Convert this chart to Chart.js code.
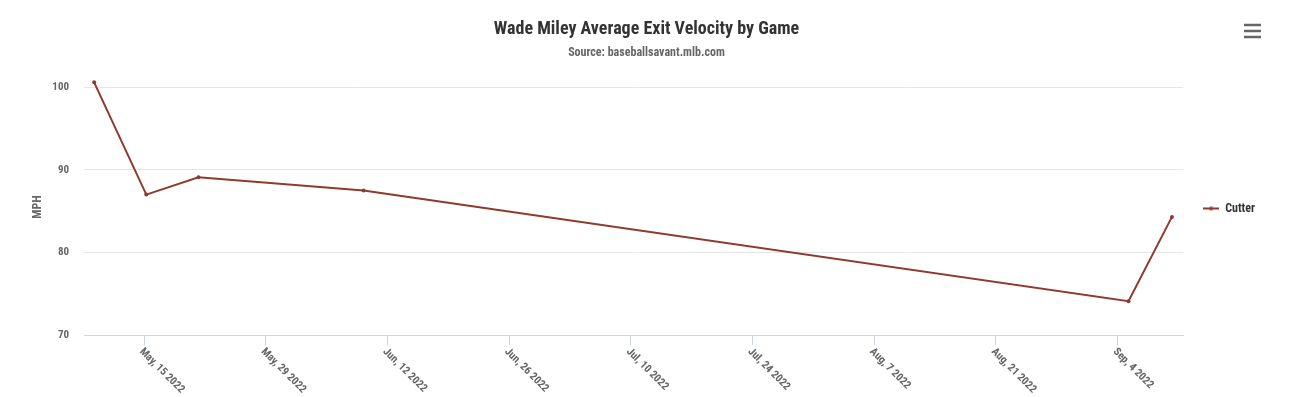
<!DOCTYPE html>
<html>
<head>
<meta charset="utf-8">
<script src="https://cdn.jsdelivr.net/npm/chart.js@4"></script>
<style>
  html, body { margin: 0; padding: 0; background: #fff; }
  #wrap { width: 1309px; height: 397px; }
</style>
</head>
<body>
<div id="wrap"><canvas id="chart"></canvas></div>
<script>
const FONT = "'Roboto Condensed', 'Liberation Sans Narrow', 'DejaVu Sans Condensed', Roboto, sans-serif";

// game dates and average exit velocity on the cutter
const gameDates = ['2022-05-09T06:00Z', '2022-05-15T06:00Z', '2022-05-21T06:00Z', '2022-06-09T06:00Z', '2022-09-05T06:00Z', '2022-09-10T06:00Z'];
const cutterMph = [100.6, 87.0, 89.1, 87.5, 74.1, 84.3];

const xTickDates = ['2022-05-15', '2022-05-29', '2022-06-12', '2022-06-26', '2022-07-10', '2022-07-24', '2022-08-07', '2022-08-21', '2022-09-04'];
const yTicks = [70, 80, 90, 100];
const monthNames = ['Jan', 'Feb', 'Mar', 'Apr', 'May', 'Jun', 'Jul', 'Aug', 'Sep', 'Oct', 'Nov', 'Dec'];

const lineColor = '#8e3a2c';

function fmtDate(ms) {
  const d = new Date(ms);
  return monthNames[d.getUTCMonth()] + ', ' + d.getUTCDate() + ' ' + d.getUTCFullYear();
}

// legend symbol: short line with a dot, highcharts style
const legendIcon = document.createElement('canvas');
legendIcon.width = 16;
legendIcon.height = 6;
(function () {
  const c = legendIcon.getContext('2d');
  c.strokeStyle = lineColor;
  c.lineWidth = 2;
  c.beginPath(); c.moveTo(0, 3); c.lineTo(16, 3); c.stroke();
  c.fillStyle = lineColor;
  c.beginPath(); c.arc(8, 3, 2, 0, Math.PI * 2); c.fill();
})();

// x labels are rotated clockwise, which chart.js can't do natively
const rotatedXLabels = {
  id: 'rotatedXLabels',
  afterDraw(chart) {
    const scale = chart.scales.x;
    const ctx = chart.ctx;
    ctx.save();
    ctx.font = 'bold 11px ' + FONT;
    ctx.fillStyle = '#666666';
    ctx.textAlign = 'left';
    ctx.textBaseline = 'middle';
    scale.ticks.forEach(t => {
      const x = scale.getPixelForValue(t.value);
      ctx.save();
      ctx.translate(x - 3, scale.top + 15);
      ctx.rotate(Math.PI / 4);
      ctx.fillText(fmtDate(t.value), 0, 0);
      ctx.restore();
    });
    ctx.restore();
  }
};

// the little menu button in the top right corner
const menuButton = {
  id: 'menuButton',
  afterDraw(chart) {
    const ctx = chart.ctx;
    ctx.save();
    ctx.strokeStyle = '#666666';
    ctx.lineWidth = 2.5;
    [25, 31, 37].forEach(y => {
      ctx.beginPath();
      ctx.moveTo(1244, y);
      ctx.lineTo(1261, y);
      ctx.stroke();
    });
    ctx.restore();
  }
};

const points = gameDates.map((d, i) => ({ x: Date.parse(d), y: cutterMph[i] }));

new Chart(document.getElementById('chart'), {
  type: 'line',
  data: {
    datasets: [{
      label: 'Cutter',
      data: points,
      borderColor: lineColor,
      backgroundColor: lineColor,
      borderWidth: 2,
      pointRadius: 2,
      pointBorderWidth: 0,
      pointHoverRadius: 3,
      tension: 0
    }]
  },
  options: {
    responsive: true,
    maintainAspectRatio: false,
    animation: false,
    layout: { padding: { top: 0, right: 44, bottom: 52, left: 28 } },
    plugins: {
      title: {
        display: true,
        text: 'Wade Miley Average Exit Velocity by Game',
        color: '#333333',
        font: { family: FONT, size: 18, weight: 'bold' },
        padding: { top: 19, bottom: 2 }
      },
      subtitle: {
        display: true,
        text: 'Source: baseballsavant.mlb.com',
        color: '#666666',
        font: { family: FONT, size: 12, weight: 'bold' },
        padding: { top: 3, bottom: 19 }
      },
      legend: {
        position: 'right',
        title: { display: true, text: ' ', padding: 30, font: { size: 10 } },
        labels: {
          usePointStyle: true,
          pointStyle: legendIcon,
          pointStyleWidth: 16,
          color: '#333333',
          padding: 20,
          font: { family: FONT, size: 12, weight: 'bold' }
        }
      },
      tooltip: { enabled: false }
    },
    scales: {
      x: {
        type: 'linear',
        min: Date.UTC(2022, 4, 8, 2),
        max: Date.UTC(2022, 8, 11, 13),
        afterBuildTicks: axis => { axis.ticks = xTickDates.map(d => ({ value: Date.parse(d) })); },
        ticks: { display: false },
        grid: { drawOnChartArea: false, drawTicks: true, tickLength: 10, color: '#ccd6eb' },
        border: { color: '#ccd6eb' }
      },
      y: {
        min: 70,
        max: 101,
        afterBuildTicks: axis => { axis.ticks = yTicks.map(v => ({ value: v })); },
        afterFit: axis => { axis.width = 56; },
        ticks: {
          color: '#666666',
          padding: 15,
          font: { family: FONT, size: 11, weight: 'bold' }
        },
        grid: { color: '#e6e6e6', drawTicks: false },
        border: { display: false },
        title: {
          display: true,
          text: 'MPH',
          color: '#666666',
          padding: { top: 3, bottom: 0 },
          font: { family: FONT, size: 12, weight: 'bold' }
        }
      }
    }
  },
  plugins: [rotatedXLabels, menuButton]
});
</script>
</body>
</html>
